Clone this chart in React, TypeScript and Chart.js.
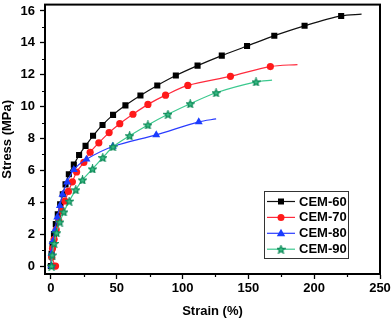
import React, { useEffect, useRef } from 'react';
import { Chart, registerables } from 'chart.js';

Chart.register(...registerables);

// ---------- data ----------
const seriesNames = ['CEM-60', 'CEM-70', 'CEM-80', 'CEM-90'];

const cem60Strain = [0, 0.5, 1.25, 2.3, 3.7, 5.2, 7.0, 9.0, 11.1, 13.6, 17.4, 21.4, 26.3, 32.0, 39.2, 47.2, 56.6, 68, 80.8, 94.9, 111.4, 129.8, 149, 169.7, 192.7, 220.5, 236];
const cem60Stress = [0, 0.76, 1.38, 2.0, 2.63, 3.25, 3.87, 4.5, 5.12, 5.76, 6.36, 6.96, 7.54, 8.17, 8.85, 9.48, 10.08, 10.7, 11.33, 11.95, 12.57, 13.2, 13.8, 14.45, 15.07, 15.69, 15.8];

const cem70Strain = [3.5, 0.6, 1.2, 2.4, 4.0, 5.9, 8.1, 10.6, 13.3, 16.3, 19.5, 25, 29.8, 36.4, 44.2, 52.3, 62.3, 73.7, 87.1, 104, 136.4, 166.7, 187.3];
const cem70Stress = [0, 0.55, 1.1, 1.68, 2.28, 2.88, 3.48, 4.08, 4.68, 5.28, 5.9, 6.5, 7.13, 7.73, 8.37, 8.93, 9.52, 10.14, 10.72, 11.33, 11.9, 12.51, 12.64];

const cem80Strain = [0.3, 0.5, 1.3, 3.0, 4.8, 6.8, 8.8, 12.3, 17.4, 27, 47, 80, 112.3, 125.5];
const cem80Stress = [0, 0.79, 1.52, 2.24, 3.07, 3.78, 4.49, 5.26, 6.05, 6.7, 7.5, 8.23, 9.04, 9.23];

const cem90Strain = [0.5, 1.0, 2.5, 4.3, 6.8, 9.8, 13.9, 18.9, 24, 31.6, 39.4, 47.2, 59.8, 73.7, 88.9, 105.8, 125.5, 155.8, 168];
const cem90Stress = [0, 0.69, 1.41, 2.08, 2.76, 3.39, 4.07, 4.78, 5.4, 6.09, 6.8, 7.48, 8.17, 8.85, 9.52, 10.18, 10.87, 11.55, 11.66];

const xTickValues = [0, 50, 100, 150, 200, 250];
const yTickValues = [0, 2, 4, 6, 8, 10, 12, 14, 16];
const xMinorTicks = [25, 75, 125, 175, 225];
const yMinorTicks = [1, 3, 5, 7, 9, 11, 13, 15];

const FONT = '"Liberation Sans", Arial, Helvetica, sans-serif';

const lineColors = ['#111111', '#ff2a3c', '#2a3cff', '#3cc98f'];
const markerColors = ['#000000', '#ff1a1a', '#1a3cff', '#14a070'];
const markerStyles = ['rect', 'circle', 'triangle', 'star'];

function makeStar(fill: string, stroke: string, size: number) {
  const c = document.createElement('canvas');
  c.width = size;
  c.height = size;
  const ctx = c.getContext('2d')!;
  const cx = size / 2;
  const cy = size / 2 + 0.4;
  const R = size / 2 - 0.5;
  const r = R * 0.45;
  ctx.beginPath();
  for (let i = 0; i < 10; i++) {
    const ang = -Math.PI / 2 + (i * Math.PI) / 5;
    const rad = i % 2 === 0 ? R : r;
    ctx.lineTo(cx + rad * Math.cos(ang), cy + rad * Math.sin(ang));
  }
  ctx.closePath();
  ctx.fillStyle = fill;
  ctx.fill();
  ctx.strokeStyle = stroke;
  ctx.lineWidth = 1.2;
  ctx.stroke();
  return c;
}

function drawMarker(ctx: CanvasRenderingContext2D, style: string, x: number, y: number, color: string, star: HTMLCanvasElement) {
  ctx.save();
  ctx.fillStyle = color;
  if (style === 'rect') {
    ctx.fillRect(x - 3, y - 3, 6, 6);
  } else if (style === 'circle') {
    ctx.beginPath();
    ctx.arc(x, y, 3.5, 0, Math.PI * 2);
    ctx.fill();
  } else if (style === 'triangle') {
    ctx.beginPath();
    ctx.moveTo(x, y - 4.5);
    ctx.lineTo(x + 4.2, y + 3);
    ctx.lineTo(x - 4.2, y + 3);
    ctx.closePath();
    ctx.fill();
  } else {
    ctx.drawImage(star, x - star.width / 2, y - star.height / 2);
  }
  ctx.restore();
}

export default function App() {
  const canvasRef = useRef<HTMLCanvasElement | null>(null);

  useEffect(() => {
    const canvas = canvasRef.current;
    if (!canvas) return;
    const star = makeStar('#3cbf86', '#0c8a58', 9);

    const strains = [cem60Strain, cem70Strain, cem80Strain, cem90Strain];
    const stresses = [cem60Stress, cem70Stress, cem80Stress, cem90Stress];
    const radii = [4.3, 3.6, 4.6, 4];

    const datasets = seriesNames.map((name, i) => {
      const pts = strains[i].map((x, k) => ({ x, y: stresses[i][k] }));
      return {
        label: name,
        data: pts,
        showLine: true,
        borderColor: lineColors[i],
        borderWidth: 1.2,
        tension: 0.3,
        backgroundColor: markerColors[i],
        pointBackgroundColor: markerColors[i],
        pointBorderColor: markerColors[i],
        pointBorderWidth: 0,
        pointStyle: i === 3 ? star : markerStyles[i],
        pointRadius: pts.map((_, k) => (k === pts.length - 1 ? 0 : radii[i])),
        pointHoverRadius: 0,
        order: [4, 3, 2, 1][i],
      };
    });

    const framePlugin = {
      id: 'frame',
      afterDraw(chart: any) {
        const ctx = chart.ctx as CanvasRenderingContext2D;
        const ca = chart.chartArea;
        const xs = chart.scales.x;
        const ys = chart.scales.y;
        ctx.save();
        ctx.strokeStyle = '#000';
        ctx.lineWidth = 2;
        ctx.strokeRect(ca.left, ca.top, ca.right - ca.left, ca.bottom - ca.top);
        ctx.lineWidth = 1.2;
        ctx.beginPath();
        xMinorTicks.forEach((v) => {
          const px = Math.round(xs.getPixelForValue(v)) + 0.5;
          ctx.moveTo(px, ca.bottom);
          ctx.lineTo(px, ca.bottom + 3);
        });
        yMinorTicks.forEach((v) => {
          const py = Math.round(ys.getPixelForValue(v)) + 0.5;
          ctx.moveTo(ca.left, py);
          ctx.lineTo(ca.left - 3, py);
        });
        ctx.stroke();

        // legend
        const bx = ca.right - 116;
        const by = ca.bottom - 83;
        const bw = 84;
        const bh = 67;
        ctx.fillStyle = '#fff';
        ctx.fillRect(bx, by, bw, bh);
        ctx.strokeStyle = '#333';
        ctx.lineWidth = 1;
        ctx.strokeRect(bx + 0.5, by + 0.5, bw, bh);
        ctx.font = `bold 13px ${FONT}`;
        ctx.textBaseline = 'middle';
        ctx.textAlign = 'left';
        seriesNames.forEach((name, i) => {
          const ry = by + 10.5 + i * 15.9;
          ctx.strokeStyle = lineColors[i];
          ctx.lineWidth = 1.2;
          ctx.beginPath();
          ctx.moveTo(bx + 3, ry);
          ctx.lineTo(bx + 31, ry);
          ctx.stroke();
          drawMarker(ctx, markerStyles[i], bx + 17, ry, markerColors[i], star);
          ctx.fillStyle = '#000';
          ctx.fillText(name, bx + 35, ry + 0.5);
        });
        ctx.restore();
      },
    };

    const chart = new Chart(canvas, {
      type: 'scatter',
      data: { datasets } as any,
      options: {
        animation: false,
        responsive: false,
        devicePixelRatio: 1,
        layout: { padding: { top: 3, right: 12, left: 0, bottom: 0 } },
        plugins: { legend: { display: false }, tooltip: { enabled: false } },
        scales: {
          x: {
            type: 'linear',
            min: -4.5,
            max: 250,
            afterBuildTicks: (s: any) => {
              s.ticks = xTickValues.map((v) => ({ value: v }));
            },
            afterFit: (s: any) => {
              s.height = 47;
              s.paddingLeft = 0;
              s.paddingRight = 0;
            },
            ticks: {
              color: '#000',
              font: { family: FONT, size: 13, weight: 'bold' },
              padding: 2,
              maxRotation: 0,
              autoSkip: false,
            },
            grid: {
              drawOnChartArea: false,
              drawTicks: true,
              tickLength: 5,
              tickColor: '#000',
              tickWidth: 1.3,
            },
            border: { color: '#000', width: 2 },
            title: {
              display: true,
              text: 'Strain (%)',
              color: '#000',
              font: { family: FONT, size: 13, weight: 'bold' },
              padding: { top: 0, bottom: 1.5 },
            },
          },
          y: {
            type: 'linear',
            min: -0.5,
            max: 16.4,
            afterBuildTicks: (s: any) => {
              s.ticks = yTickValues.map((v) => ({ value: v }));
            },
            afterFit: (s: any) => {
              s.width = 45;
              s.paddingTop = 0;
              s.paddingBottom = 0;
            },
            ticks: {
              color: '#000',
              font: { family: FONT, size: 13, weight: 'bold' },
              padding: 5,
              autoSkip: false,
            },
            grid: {
              drawOnChartArea: false,
              drawTicks: true,
              tickLength: 5,
              tickColor: '#000',
              tickWidth: 1.3,
            },
            border: { color: '#000', width: 2 },
            title: {
              display: true,
              text: 'Stress (MPa)',
              color: '#000',
              font: { family: FONT, size: 13, weight: 'bold' },
              padding: { top: 0, bottom: 0 },
            },
          },
        },
      } as any,
      plugins: [framePlugin],
    });

    return () => {
      chart.destroy();
    };
  }, []);

  return (
    <div style={{ position: 'absolute', left: 0, top: 0, width: 392, height: 321, background: '#fff' }}>
      <canvas ref={canvasRef} width={392} height={321} style={{ display: 'block' }} />
    </div>
  );
}
